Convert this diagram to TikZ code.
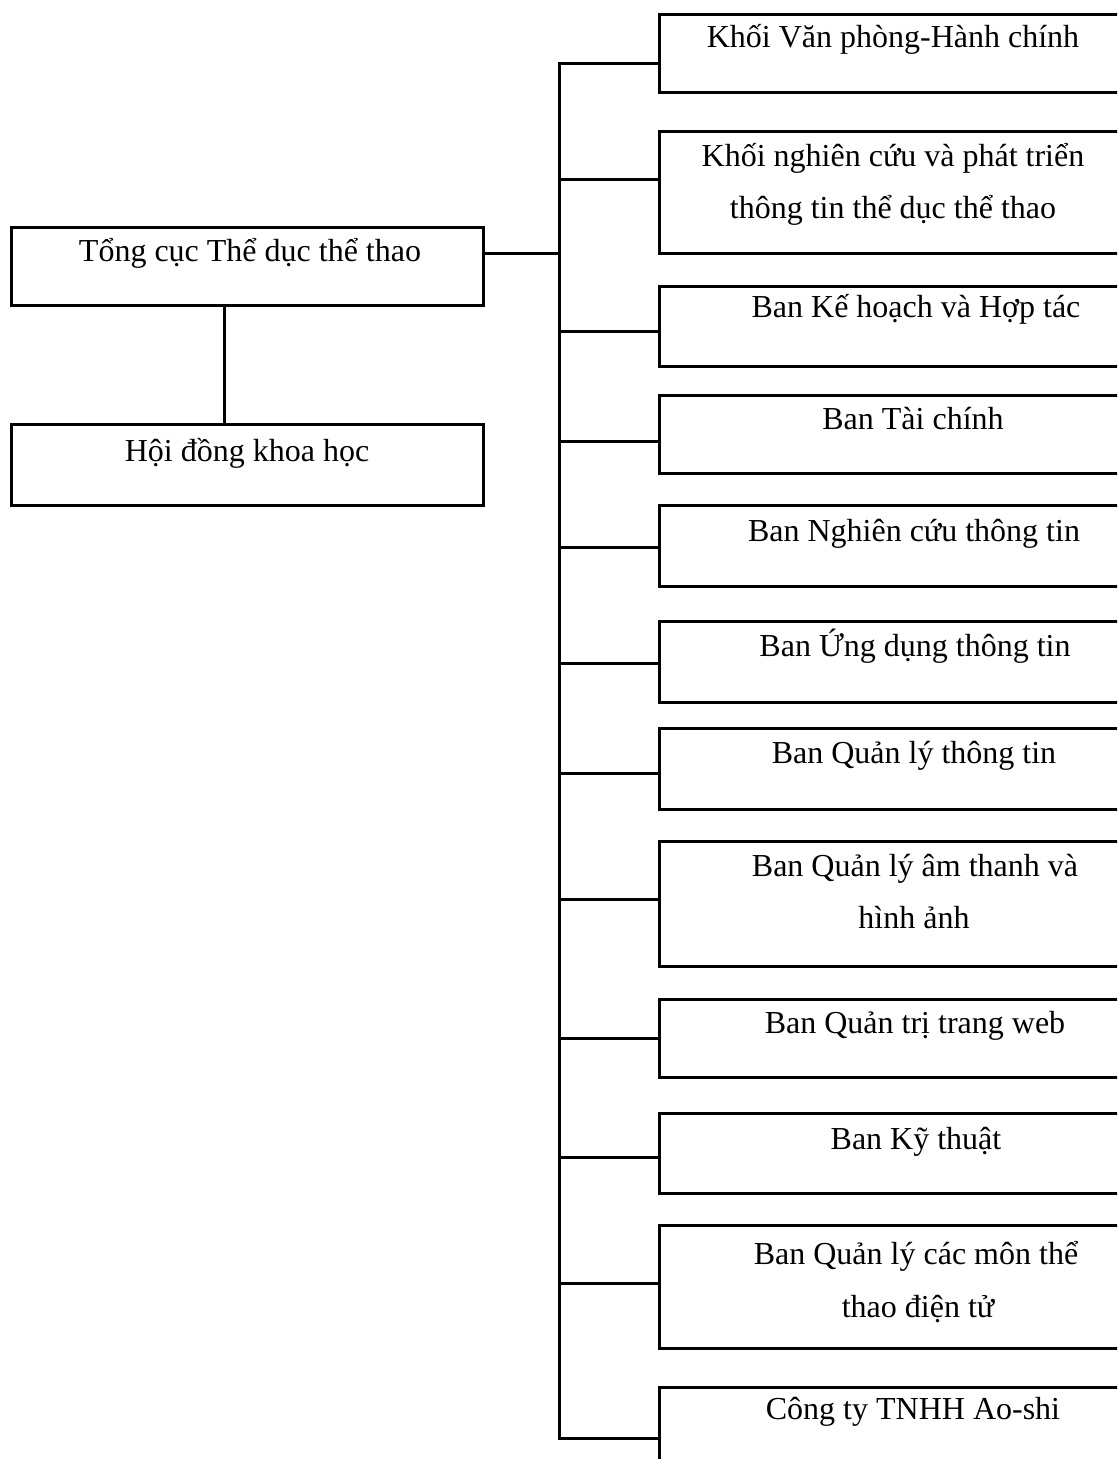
\documentclass[tikz,border=0pt]{standalone}
\usepackage{fontspec}
\setmainfont{Liberation Serif}
\begin{document}
\begin{tikzpicture}[x=1pt,y=-1pt,
  box/.style={draw=black, line width=3pt, rectangle, outer sep=0pt, inner sep=0pt},
  rbox/.style={box, minimum width=511pt},
  lbl/.style={anchor=base, inner sep=0pt, font=\fontsize{32}{52}\selectfont},
  conn/.style={draw=black, line width=3pt, line join=miter}]
\clip (0,0) rectangle (1117,1459);
\fill[white] (0,0) rectangle (1117,1459);
% left boxes
\node[box, minimum width=472pt, minimum height=78pt] (L1) at (247,266) {};
\node[box, minimum width=472pt, minimum height=81pt] (L2) at (247,464.5) {};
\node[lbl] (tL1) at (250,261) {Tổng cục Thể dục thể thao};
\node[lbl] (tL2) at (247,461) {Hội đồng khoa học};
% right boxes
\node[rbox, minimum height=78pt]  (R1)  at (914.5,53) {};
\node[rbox, minimum height=122pt] (R2)  at (914.5,192) {};
\node[rbox, minimum height=80pt]  (R3)  at (914.5,326) {};
\node[rbox, minimum height=78pt]  (R4)  at (914.5,434) {};
\node[rbox, minimum height=81pt]  (R5)  at (914.5,546) {};
\node[rbox, minimum height=81pt]  (R6)  at (914.5,661.5) {};
\node[rbox, minimum height=81pt]  (R7)  at (914.5,769) {};
\node[rbox, minimum height=125pt] (R8)  at (914.5,904) {};
\node[rbox, minimum height=78pt]  (R9)  at (914.5,1038) {};
\node[rbox, minimum height=80pt]  (R10) at (914.5,1153) {};
\node[rbox, minimum height=123pt] (R11) at (914.5,1286.5) {};
\node[rbox, minimum height=93pt]  (R12) at (914.5,1433.5) {};
% labels
\node[lbl] (t1)  at (893,47) {Khối Văn phòng-Hành chính};
\node[lbl] (t2a) at (893,166) {Khối nghiên cứu và phát triển};
\node[lbl] (t2b) at (893,218) {thông tin thể dục thể thao};
\node[lbl] (t3)  at (916,317) {Ban Kế hoạch và Hợp tác};
\node[lbl] (t4)  at (913,429) {Ban Tài chính};
\node[lbl] (t5)  at (914,541) {Ban Nghiên cứu thông tin};
\node[lbl] (t6)  at (915,656) {Ban Ứng dụng thông tin};
\node[lbl] (t7)  at (914,763) {Ban Quản lý thông tin};
\node[lbl] (t8a) at (915,876) {Ban Quản lý âm thanh và};
\node[lbl] (t8b) at (914,928) {hình ảnh};
\node[lbl] (t9)  at (915,1033) {Ban Quản trị trang web};
\node[lbl] (t10) at (916,1149) {Ban Kỹ thuật};
\node[lbl] (t11a) at (916,1264) {Ban Quản lý các môn thể};
\node[lbl] (t11b) at (918,1317) {thao điện tử};
\node[lbl] (t12) at (913,1419) {Công ty TNHH Ao-shi};
% trunk
\coordinate (trunkTop) at (559,63);
\coordinate (trunkBot) at (559,1438);
\draw[conn] ([yshift=-10pt]R1.west) -- (trunkTop) -- (trunkBot) -- ([yshift=-4.5pt]R12.west);
% branches
\draw[conn] ([yshift=13pt]L1.east) -- ([yshift=13pt]L1.east -| trunkTop);
\draw[conn] ([xshift=-23pt]L1.south) -- ([xshift=-23pt]L2.north);
\draw[conn] ([yshift=13pt]R2.west) -- ([yshift=13pt]R2.west -| trunkTop);
\draw[conn] ([yshift=-5pt]R3.west) -- ([yshift=-5pt]R3.west -| trunkTop);
\draw[conn] ([yshift=-7pt]R4.west) -- ([yshift=-7pt]R4.west -| trunkTop);
\draw[conn] ([yshift=-1pt]R5.west) -- ([yshift=-1pt]R5.west -| trunkTop);
\draw[conn] ([yshift=-2pt]R6.west) -- ([yshift=-2pt]R6.west -| trunkTop);
\draw[conn] ([yshift=-4pt]R7.west) -- ([yshift=-4pt]R7.west -| trunkTop);
\draw[conn] ([yshift=5pt]R8.west) -- ([yshift=5pt]R8.west -| trunkTop);
\draw[conn] (R9.west) -- (R9.west -| trunkTop);
\draw[conn] ([yshift=-4.5pt]R10.west) -- ([yshift=-4.5pt]R10.west -| trunkTop);
\draw[conn] ([yshift=3.5pt]R11.west) -- ([yshift=3.5pt]R11.west -| trunkTop);
\end{tikzpicture}
\end{document}
